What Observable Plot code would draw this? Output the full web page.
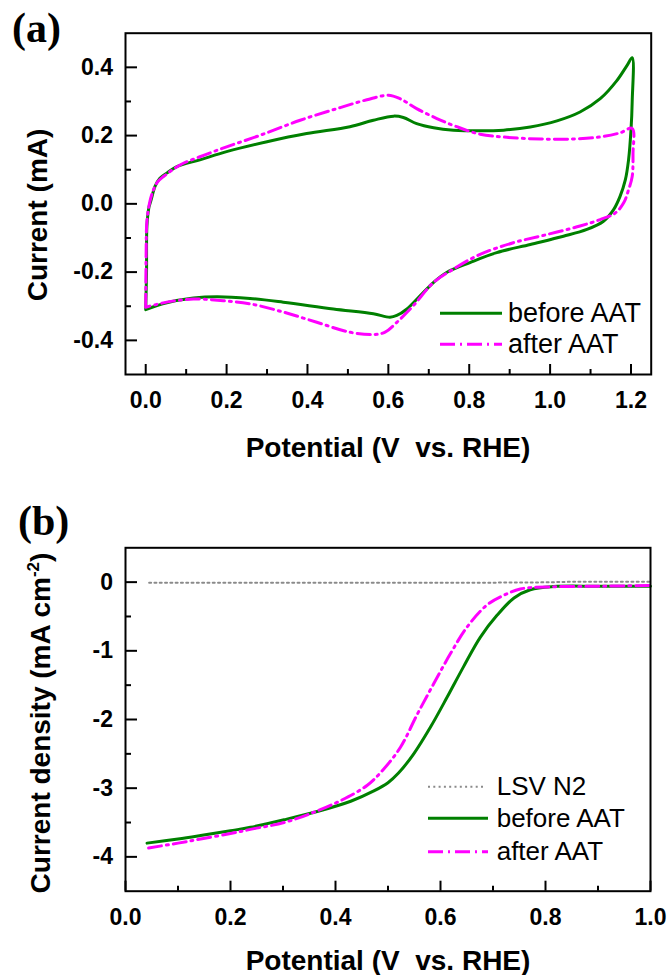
<!DOCTYPE html>
<html><head><meta charset="utf-8">
<script src="https://cdn.jsdelivr.net/npm/d3@7"></script>
<script src="https://cdn.jsdelivr.net/npm/@observablehq/plot@0.6"></script>
<style>
body{margin:0;background:#fff;}
#wrap{position:relative;width:670px;height:975px;overflow:hidden;background:#fff;}
#wrap svg{position:absolute;left:0;overflow:visible;}
</style></head><body><div id="wrap"></div>
<script>
// ---------- Panel (a): cyclic voltammetry ----------
const cvBeforeE = [0.000,0.002,0.003,0.008,0.013,0.023,0.035,0.052,0.077,0.134,0.200,0.300,0.398,0.505,0.563,0.613,0.637,0.670,0.712,0.761,0.827,0.885,0.951,1.017,1.074,1.124,1.165,1.190,1.203,1.203,1.200,1.194,1.186,1.173,1.157,1.132,1.091,1.033,0.951,0.868,0.802,0.744,0.712,0.679,0.646,0.621,0.604,0.563,0.464,0.340,0.258,0.176,0.118,0.052,0.000];
const cvBeforeI = [-0.310,-0.200,-0.065,-0.010,0.010,0.051,0.075,0.090,0.109,0.129,0.153,0.182,0.206,0.226,0.245,0.257,0.253,0.235,0.223,0.216,0.214,0.216,0.225,0.243,0.269,0.308,0.361,0.405,0.428,0.300,0.216,0.129,0.070,0.022,-0.017,-0.051,-0.075,-0.095,-0.119,-0.143,-0.172,-0.201,-0.230,-0.269,-0.308,-0.327,-0.332,-0.322,-0.308,-0.288,-0.277,-0.272,-0.276,-0.290,-0.310];
const cvAfterE = [0.000,0.001,0.003,0.010,0.019,0.030,0.044,0.085,0.134,0.200,0.283,0.382,0.481,0.547,0.600,0.629,0.670,0.720,0.769,0.827,0.893,0.976,1.058,1.124,1.173,1.203,1.205,1.203,1.194,1.182,1.161,1.124,1.074,0.992,0.909,0.827,0.761,0.712,0.662,0.621,0.592,0.563,0.505,0.423,0.340,0.258,0.192,0.118,0.052,0.000];
const cvAfterI = [-0.303,-0.150,-0.050,0.005,0.041,0.065,0.080,0.114,0.138,0.167,0.201,0.245,0.282,0.305,0.318,0.308,0.279,0.250,0.226,0.204,0.195,0.190,0.190,0.196,0.208,0.221,0.148,0.080,0.041,0.003,-0.027,-0.046,-0.065,-0.090,-0.114,-0.148,-0.191,-0.230,-0.298,-0.347,-0.376,-0.383,-0.376,-0.347,-0.317,-0.293,-0.284,-0.279,-0.288,-0.303];
const cvXMajor = [0, 0.2, 0.4, 0.6, 0.8, 1.0, 1.2];
const cvXMinor = [0.1, 0.3, 0.5, 0.7, 0.9, 1.1];
const cvYMajor = [-0.4, -0.2, 0, 0.2, 0.4];
const cvYMinor = [-0.3, -0.1, 0.1, 0.3];

// ---------- Panel (b): linear sweep voltammetry ----------
const lsvN2E = [0.045, 0.300, 0.600, 0.780, 0.850, 1.000];
const lsvN2J = [-0.010, -0.010, -0.010, -0.005, 0.005, 0.005];
const lsvBeforeE = [0.041,0.100,0.143,0.200,0.238,0.302,0.365,0.429,0.473,0.500,0.520,0.549,0.581,0.613,0.644,0.676,0.708,0.740,0.771,0.816,0.900,1.000];
const lsvBeforeJ = [-3.80,-3.74,-3.69,-3.62,-3.57,-3.46,-3.34,-3.19,-3.04,-2.92,-2.78,-2.50,-2.11,-1.67,-1.23,-0.80,-0.48,-0.23,-0.11,-0.064,-0.06,-0.06];
const lsvAfterE = [0.044,0.100,0.143,0.200,0.238,0.302,0.359,0.410,0.460,0.492,0.524,0.556,0.587,0.619,0.651,0.689,0.721,0.752,0.803,0.900,1.000];
const lsvAfterJ = [-3.87,-3.80,-3.74,-3.66,-3.60,-3.50,-3.35,-3.18,-2.96,-2.72,-2.40,-1.92,-1.48,-1.04,-0.65,-0.33,-0.19,-0.10,-0.07,-0.06,-0.05];
const lsvXMajor = [0, 0.2, 0.4, 0.6, 0.8, 1.0];
const lsvXMinor = [0.1, 0.3, 0.5, 0.7, 0.9];
const lsvYMajor = [0, -1, -2, -3, -4];
const lsvYMinor = [-0.5, -1.5, -2.5, -3.5];

const GREEN = "#008000", MAGENTA = "#ff00ff", GRAY = "#8a8a8a";
const DASHDOT = "13,5,2,5";
const FONT = "'Liberation Sans', Arial, Helvetica, sans-serif";

function axes(xMaj, xMin, yMaj, yMin, fx, fy) {
  const lab = {fontSize: 23, fontWeight: "bold", fill: "#000", label: null};
  return [
    Plot.axisX(xMaj, {anchor: "bottom", tickSize: -10, strokeWidth: 2, fill: "none", label: null}),
    Plot.axisX(xMin, {anchor: "bottom", tickSize: -5, strokeWidth: 2, fill: "none", label: null}),
    Plot.axisX(xMaj, {anchor: "bottom", tickSize: 0, tickPadding: 17, tickFormat: fx, ...lab}),
    Plot.axisY(yMaj, {anchor: "left", tickSize: -12, strokeWidth: 2, fill: "none", label: null}),
    Plot.axisY(yMin, {anchor: "left", tickSize: -6, strokeWidth: 2, fill: "none", label: null}),
    Plot.axisY(yMaj, {anchor: "left", tickSize: 0, tickPadding: 12.5, tickFormat: fy, ...lab}),
    Plot.frame({stroke: "#000", strokeWidth: 2})
  ];
}

const plotA = Plot.plot({
  width: 670, height: 470,
  marginLeft: 125, marginRight: 19.3, marginTop: 32.7, marginBottom: 96,
  style: {fontFamily: FONT, color: "#000", background: "transparent"},
  x: {domain: [-0.05, 1.25]},
  y: {domain: [-0.5, 0.5]},
  marks: [
    Plot.line(cvBeforeE, {x: cvBeforeE, y: cvBeforeI, stroke: GREEN, strokeWidth: 3, curve: "catmull-rom"}),
    Plot.line(cvAfterE, {x: cvAfterE, y: cvAfterI, stroke: MAGENTA, strokeWidth: 3, strokeDasharray: DASHDOT, curve: "catmull-rom"}),
    ...axes(cvXMajor, cvXMinor, cvYMajor, cvYMinor, d => d.toFixed(1), d => d.toFixed(1))
  ]
});

const plotB = Plot.plot({
  width: 670, height: 495,
  marginLeft: 125, marginRight: 20, marginTop: 67.3, marginBottom: 84.3,
  style: {fontFamily: FONT, color: "#000", background: "transparent"},
  x: {domain: [0, 1.0]},
  y: {domain: [-4.5, 0.5]},
  marks: [
    Plot.line(lsvN2E, {x: lsvN2E, y: lsvN2J, stroke: GRAY, strokeWidth: 2, strokeDasharray: "2,3.3"}),
    Plot.line(lsvBeforeE, {x: lsvBeforeE, y: lsvBeforeJ, stroke: GREEN, strokeWidth: 3, curve: "catmull-rom"}),
    Plot.line(lsvAfterE, {x: lsvAfterE, y: lsvAfterJ, stroke: MAGENTA, strokeWidth: 3, strokeDasharray: DASHDOT, curve: "catmull-rom"}),
    ...axes(lsvXMajor, lsvXMinor, lsvYMajor, lsvYMinor, d => d.toFixed(1), d => String(d))
  ]
});

const wrap = document.getElementById("wrap");
plotA.style.top = "0px";
plotB.style.top = "480px";
wrap.appendChild(plotA);
wrap.appendChild(plotB);

// ---------- annotations (page coordinates) ----------
function decorate(svgNode, offsetY, cfg) {
  const g = d3.select(svgNode).append("g").attr("transform", `translate(0,${-offsetY})`)
    .style("font-family", FONT).attr("fill", "#000").attr("text-anchor", "start");
  g.append("text").attr("x", cfg.panel[0]).attr("y", cfg.panel[1]).attr("text-anchor", "start")
    .style("font-family", "'Liberation Serif','Times New Roman',serif")
    .attr("font-size", 42).attr("font-weight", "bold").text(cfg.panelText);
  const yl = g.append("text").attr("transform", `translate(${cfg.ylab[0]},${cfg.ylab[1]}) rotate(-90)`)
    .attr("text-anchor", "middle").attr("font-size", 28).attr("font-weight", "bold");
  cfg.ylabParts(yl);
  g.append("text").attr("x", cfg.xlab[0]).attr("y", cfg.xlab[1]).attr("text-anchor", "middle")
    .attr("font-size", 28).attr("font-weight", "bold")
    .style("white-space", "pre").text("Potential (V\u00a0\u00a0vs. RHE)");
  cfg.legend.forEach(it => {
    g.append("line").attr("x1", it.x1).attr("x2", it.x2).attr("y1", it.y).attr("y2", it.y)
      .attr("stroke", it.stroke).attr("stroke-width", it.w).attr("stroke-dasharray", it.dash || null);
    g.append("text").attr("x", it.tx).attr("y", it.ty).attr("text-anchor", "start")
      .attr("font-size", it.fs).text(it.label);
  });
}

decorate(plotA, 0, {
  panel: [12, 42], panelText: "(a)",
  ylab: [47, 215],
  ylabParts: t => t.text("Current (mA)"),
  xlab: [388, 457],
  legend: [
    {x1: 440, x2: 502, y: 313.3, stroke: GREEN, w: 3, tx: 508, ty: 321.7, fs: 27, label: "before AAT"},
    {x1: 440, x2: 502, y: 344.3, stroke: MAGENTA, w: 3, dash: "15,5,2,5", tx: 508, ty: 353.3, fs: 27, label: "after AAT"}
  ]
});

decorate(plotB, 480, {
  panel: [18, 535], panelText: "(b)",
  ylab: [50, 723],
  ylabParts: t => {
    t.append("tspan").text("Current density (mA cm");
    t.append("tspan").attr("dy", -11).attr("font-size", 17).text("-2");
    t.append("tspan").attr("dy", 11).text(")");
  },
  xlab: [388, 970],
  legend: [
    {x1: 428, x2: 484, y: 786.7, stroke: GRAY, w: 2, dash: "2,3.3", tx: 496.7, ty: 795, fs: 26, label: "LSV N2"},
    {x1: 428, x2: 488, y: 818.3, stroke: GREEN, w: 3, tx: 496.7, ty: 827.3, fs: 26, label: "before AAT"},
    {x1: 428, x2: 488, y: 851.7, stroke: MAGENTA, w: 3, dash: "15,5,2,5", tx: 496.7, ty: 860, fs: 26, label: "after AAT"}
  ]
});
</script></body></html>
